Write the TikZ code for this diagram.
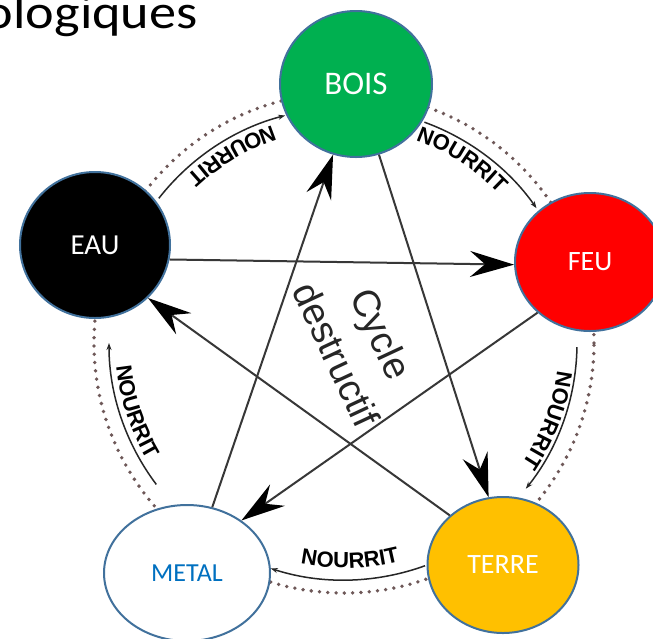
\documentclass[tikz,border=0pt]{standalone}
\usepackage{fontspec}
\setmainfont{Liberation Sans}
\newfontfamily\calib{Carlito}
\usetikzlibrary{arrows.meta,shapes.geometric,decorations.text}
\definecolor{bordc}{RGB}{65,113,156}
\definecolor{boisg}{RGB}{0,176,80}
\definecolor{feur}{RGB}{255,0,0}
\definecolor{terreg}{RGB}{255,192,0}
\definecolor{metalb}{RGB}{0,112,192}
\definecolor{lineg}{RGB}{55,55,55}
\definecolor{dotc}{RGB}{110,88,88}
\newcommand\nourfont{\fontsize{22}{24}\selectfont\bfseries}
\begin{document}
\begin{tikzpicture}[x=1pt,y=1pt,
  elem/.style={ellipse, draw=bordc, line width=2pt, inner sep=0pt, text=white},
  destr/.style={draw=lineg, line width=2pt,
    -{Stealth[length=44pt,width=26pt,inset=15pt,color=black]}},
  nour/.style={draw=black!85, line width=1.5pt, -{Stealth[length=7pt,width=5pt]}},
  dotring/.style={draw=dotc, line width=3.8pt, line cap=round, dash pattern=on 0pt off 8.3pt},
  nlabel/.style={decorate, decoration={text along path, text align=center,
    text={|\nourfont|NOURRIT}}}
]
\fill[white] (0,0) rectangle (653,-638);
\useasboundingbox (0,0) rectangle (653,-638);
\coordinate (ctr) at (344,-343);

% dotted ring
\draw[dotring] (ctr) circle[radius=250];

% title fragment
\node[font=\calib\fontsize{48}{52}\selectfont, anchor=base east, inner sep=0pt, xscale=1.13] (title) at (198,-28.5) {ologiques};

% elements
\node[elem, fill=boisg, minimum width=152pt, minimum height=146pt, font=\calib\fontsize{33}{36}\selectfont] (bois) at (356,-84) {BOIS};
\node[elem, fill=black, minimum width=150pt, minimum height=146pt, font=\calib\fontsize{29}{32}\selectfont] (eau) at (95,-245) {EAU};
\node[elem, fill=feur, minimum width=150pt, minimum height=138pt, font=\calib\fontsize{28}{32}\selectfont] (feu) at (590,-262) {FEU};
\node[elem, fill=white, text=metalb, minimum width=166pt, minimum height=136pt, font=\calib\fontsize{26}{30}\selectfont] (metal) at (187,-573) {METAL};
\node[elem, fill=terreg, minimum width=151pt, minimum height=136pt, font=\calib\fontsize{28}{32}\selectfont] (terre) at (503,-565) {TERRE};

% destructive cycle
\draw[destr] (eau.-11) -- (feu.182);
\draw[destr] (bois.-72) -- (terre.102);
\draw[destr] (terre.137) -- (eau.-45);
\draw[destr] (feu.224) -- (metal.44);
\draw[destr] (metal.69) -- (bois.252);

\node[rotate=-65, align=center, font=\fontsize{38}{50}\selectfont, text=black!85] (cyc) at (359,-344) {Cycle\\destructif};

% generating cycle arcs
\coordinate (a1) at ([shift={(142:235)}]ctr);
\coordinate (a2) at ([shift={(70:235)}]ctr);
\coordinate (a3) at ([shift={(-1:233)}]ctr);
\coordinate (a4) at ([shift={(-70:237)}]ctr);
\coordinate (a5) at ([shift={(217:235)}]ctr);
\draw[nour] (a1) arc[start angle=142, end angle=104.5, radius=235];
\draw[nour] (a2) arc[start angle=70, end angle=35, radius=235];
\draw[nour] (a3) arc[start angle=-1, end angle=-38.7, radius=233];
\draw[nour] (a4) arc[start angle=-70, end angle=-108, radius=237];
\draw[nour] (a5) arc[start angle=217, end angle=180, radius=235];

% labels
\coordinate (l1) at ([shift={(100.8:229)}]ctr);
\coordinate (l2) at ([shift={(77.2:215)}]ctr);
\coordinate (l3) at ([shift={(-0.7:215)}]ctr);
\coordinate (l4) at ([shift={(-108.4:225)}]ctr);
\coordinate (l5) at ([shift={(178.3:229)}]ctr);
\path[nlabel] (l1) arc[start angle=100.8, end angle=140.8, radius=229];
\path[nlabel] (l2) arc[start angle=77.2, end angle=37.2, radius=215];
\path[nlabel] (l3) arc[start angle=-0.7, end angle=-40.7, radius=215];
\path[nlabel] (l4) arc[start angle=-108.4, end angle=-68.4, radius=225];
\path[nlabel] (l5) arc[start angle=178.3, end angle=218.3, radius=229];
\end{tikzpicture}
\end{document}
